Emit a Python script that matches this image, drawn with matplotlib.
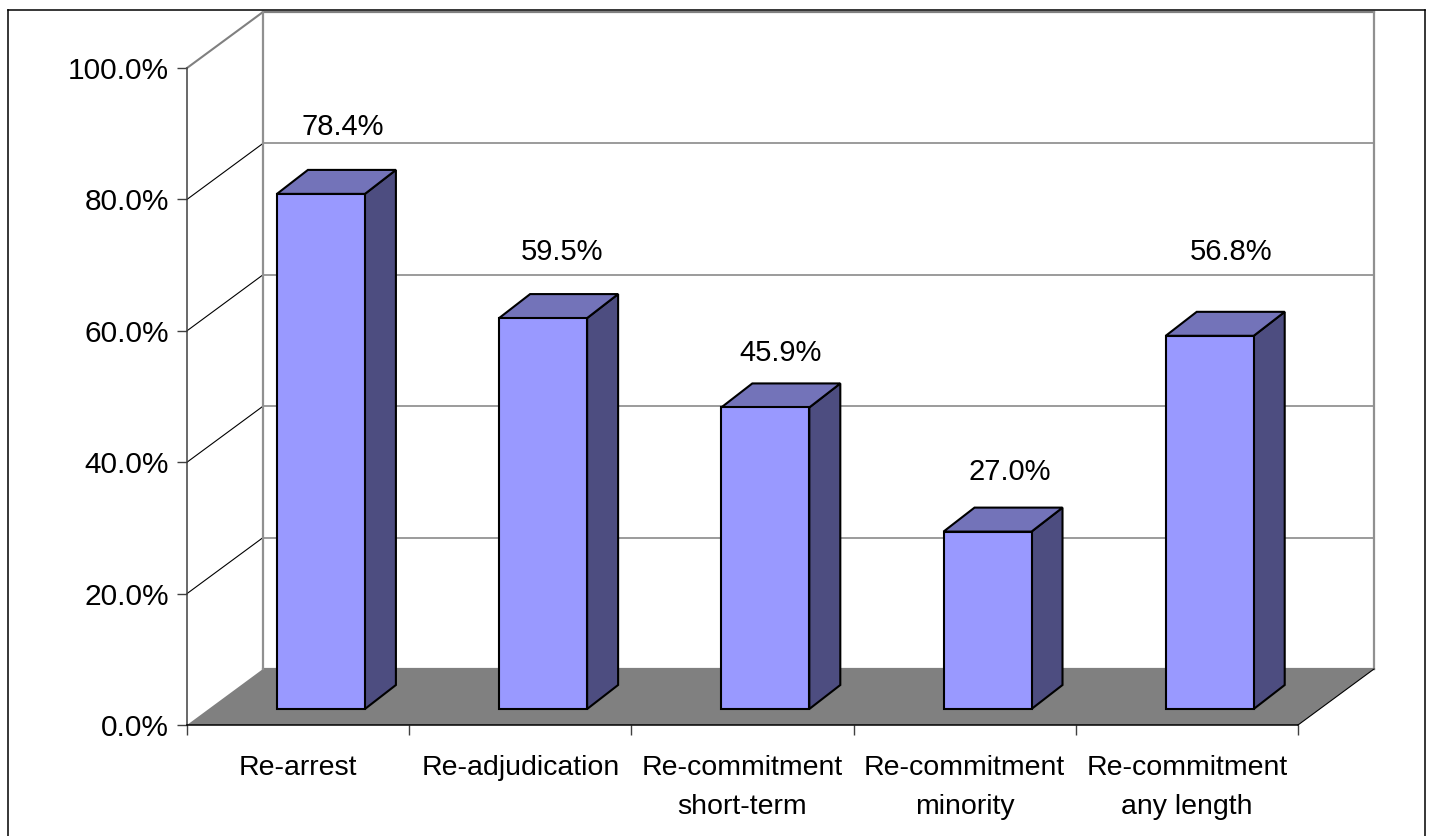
import matplotlib
matplotlib.use("Agg")
import matplotlib.pyplot as plt
from matplotlib.lines import Line2D
from matplotlib.patches import Polygon
from matplotlib.transforms import Affine2D

categories = ["Re-arrest", "Re-adjudication", "Re-commitment\nshort-term",
              "Re-commitment\nminority", "Re-commitment\nany length"]
values = [78.4, 59.5, 45.9, 27.0, 56.8]
value_labels = ["78.4%", "59.5%", "45.9%", "27.0%", "56.8%"]
y_ticks = [0, 20, 40, 60, 80, 100]
y_tick_labels = ["0.0%", "20.0%", "40.0%", "60.0%", "80.0%", "100.0%"]

W, H = 1430, 836
plt.rcParams["font.family"] = ["Liberation Sans", "DejaVu Sans"]
FS_NUM = 21
FS_TICK = 21.5
FS_CAT = 20.5

fig = plt.figure(figsize=(W / 100, H / 100), dpi=100, facecolor="white")
ax = fig.add_axes([187 / W, (H - 725) / H, 1111 / W, 657 / H])
ax.set_xlim(0, len(categories))
ax.set_ylim(0, 100)
ax.patch.set_visible(False)
for s in ("top", "right"):
    ax.spines[s].set_visible(False)
ax.spines["left"].set_color("#404040")
ax.spines["left"].set_linewidth(1.1)
ax.spines["bottom"].set_color("black")
ax.spines["bottom"].set_linewidth(1.1)


def shifted(dx, dy):
    return ax.transData + Affine2D().translate(dx, dy)


def add_free(artist):
    ax.add_artist(artist)
    artist.set_clip_on(False)
    return artist


# chart frame (bottom edge lies outside the picture)
for xs, ys in (([7.5, 7.5], [836, 9.5]), ([7.5, 1424.5], [9.5, 9.5]), ([1424.5, 1424.5], [9.5, 836])):
    fig.add_artist(Line2D([x / W for x in xs], [1 - y / H for y in ys],
                          color="black", lw=1.1, transform=fig.transFigure))

# plot depth, in pixels
WALL_DX, WALL_DY = 76, 56
BAR_DX, BAR_DY = 21.7, 16
SIDE_DX, SIDE_DY = 31, 24
BAR_W = 0.396
BAR_X0 = 0.307
n = len(categories)
wall = shifted(WALL_DX, WALL_DY)

# floor
add_free(Polygon([ax.transData.transform((0, 0)), ax.transData.transform((n, 0)),
                  wall.transform((n, 0)), wall.transform((0, 0))],
                 closed=True, transform=None, facecolor="#808080", edgecolor="none", zorder=1))

# walls and gridlines
for t in y_ticks:
    ax.plot([0, n], [t, t], transform=wall, color="#808080",
            lw=1.6 if t in (0, 100) else 1.1, clip_on=False, zorder=2)
    if t > 0:
        p0 = ax.transData.transform((0, t))
        p1 = wall.transform((0, t))
        add_free(Line2D([p0[0], p1[0]], [p0[1], p1[1]], transform=None,
                        color="#808080" if t == 100 else "black",
                        lw=1.5 if t == 100 else 0.8, zorder=2))
ax.plot([0, 0], [0, 100], transform=wall, color="#909090", lw=1.6, clip_on=False, zorder=2)
ax.plot([n, n], [0, 100], transform=wall, color="#909090", lw=1.6, clip_on=False, zorder=2)
p0 = ax.transData.transform((n, 0))
p1 = wall.transform((n, 0))
add_free(Line2D([p0[0], p1[0]], [p0[1], p1[1]], transform=None, color="black", lw=0.8, zorder=2))

# bars
base = shifted(BAR_DX, BAR_DY)
side = shifted(BAR_DX + SIDE_DX, BAR_DY + SIDE_DY)
label_offsets = [(66, 67), (63, 66), (59, 54), (66, 60), (65, 84)]
for i, v in enumerate(values):
    x0, x1 = i + BAR_X0, i + BAR_X0 + BAR_W
    kw = dict(edgecolor="black", linewidth=1.5, joinstyle="miter", zorder=3)
    a, b = base.transform((x0, 0)), base.transform((x1, 0))
    c, d = base.transform((x1, v)), base.transform((x0, v))
    b2, c2 = side.transform((x1, 0)), side.transform((x1, v))
    d2 = side.transform((x0, v))
    add_free(Polygon([b, b2, c2, c], closed=True, transform=None, facecolor="#4D4D80", **kw))
    add_free(Polygon([d, c, c2, d2], closed=True, transform=None, facecolor="#7373B9", **kw))
    add_free(Polygon([a, b, c, d], closed=True, transform=None, facecolor="#9999FF", **kw))
    ox, oy = label_offsets[i]
    ax.annotate(value_labels[i], xy=(x0, v), xycoords=base, xytext=(ox * 0.72, oy * 0.72),
                textcoords="offset points", ha="center", va="center", fontsize=FS_NUM,
                color="black", annotation_clip=False, zorder=4)

# axes ticks
ax.set_yticks(y_ticks)
ax.set_yticklabels(y_tick_labels, fontsize=FS_TICK, color="black")
ax.tick_params(axis="y", length=7, width=1.0, color="#404040", pad=6)
ax.set_xticks(range(n + 1))
ax.set_xticklabels([])
ax.tick_params(axis="x", which="major", length=7, width=1.0, color="#404040")
ax.set_xticks([i + 0.5 for i in range(n)], minor=True)
ax.set_xticklabels(categories, minor=True, fontsize=FS_CAT, color="black", linespacing=1.67)
ax.tick_params(axis="x", which="minor", length=0, pad=21.5)

fig.savefig("out.png", dpi=100)
